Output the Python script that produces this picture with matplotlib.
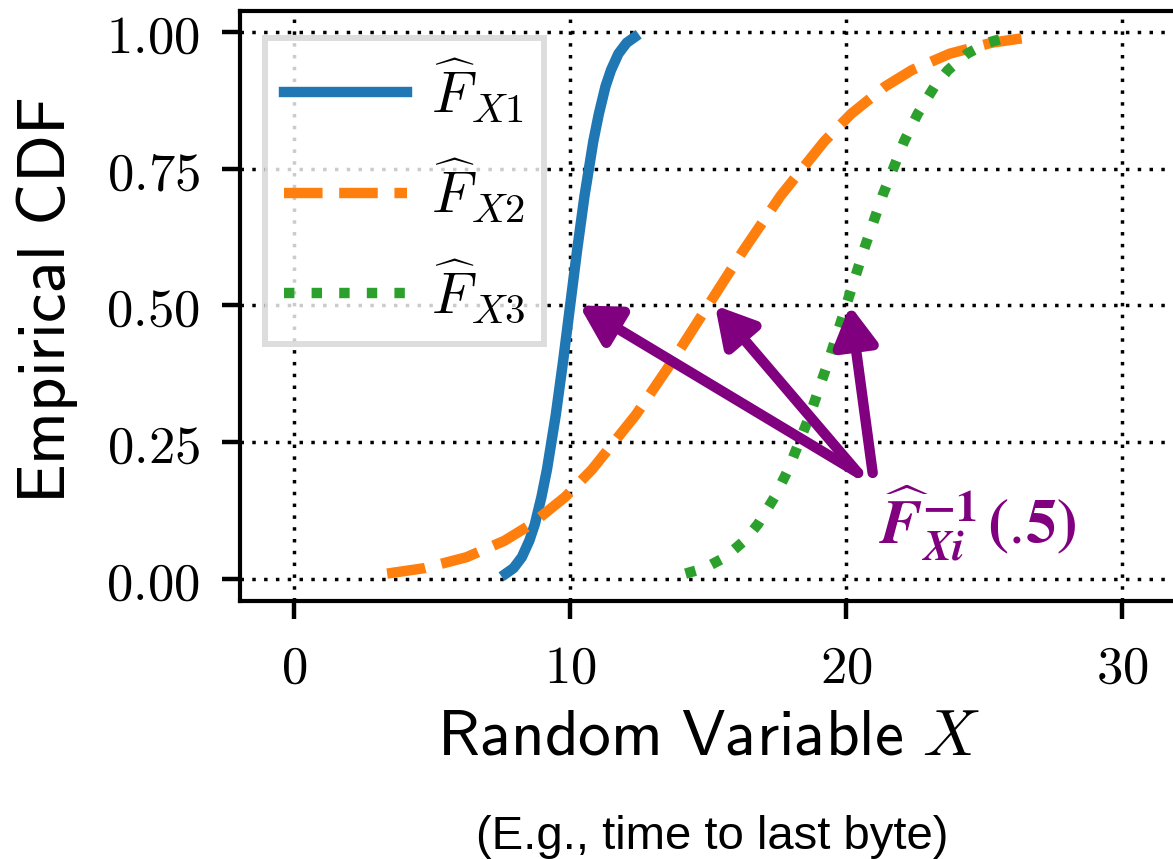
import numpy as np
import matplotlib
matplotlib.use("Agg")
import matplotlib.pyplot as plt

plt.rcParams['mathtext.fontset'] = 'cm'

# CDF levels and the x positions
cdf_levels = [0.01, 0.02, 0.04, 0.07, 0.10, 0.15, 0.20, 0.30, 0.40, 0.50,
              0.60, 0.70, 0.80, 0.85, 0.90, 0.93, 0.96, 0.98, 0.99]
x_f1 = [7.67, 7.95, 8.25, 8.52, 8.72, 8.96, 9.16, 9.48, 9.75, 10.0,
        10.25, 10.52, 10.84, 11.04, 11.28, 11.48, 11.75, 12.05, 12.33]
x_f2 = [3.37, 4.73, 6.25, 7.62, 8.59, 9.82, 10.79, 12.38, 13.73, 15.0,
        16.27, 17.62, 19.21, 20.18, 21.41, 22.38, 23.75, 25.27, 26.63]
x_f3 = [14.18, 14.87, 15.62, 16.31, 16.80, 17.41, 17.90, 18.69, 19.37, 20.0,
        20.63, 21.31, 22.10, 22.59, 23.20, 23.69, 24.38, 25.13, 25.82]

labels = [r'$\widehat{F}_{X1}$', r'$\widehat{F}_{X2}$', r'$\widehat{F}_{X3}$']
xticks = [0, 10, 20, 30]
yticks = [0.0, 0.25, 0.50, 0.75, 1.0]
ytick_labels = ['0.00', '0.25', '0.50', '0.75', '1.00']

# arrow tips (at the medians) and tails
arrow_tips = [(10.33, 0.5), (15.25, 0.5), (20.14, 0.5)]
arrow_tails = [(20.43, 0.194), (20.43, 0.194), (20.96, 0.194)]

fig = plt.figure(figsize=(11.73, 8.59), dpi=100)
ax = fig.add_axes([0.2046, 0.3004, 0.8227, 0.6868])

lw = 7.5
ax.plot(x_f1, cdf_levels, color='#1f77b4', lw=lw, ls='-', label=labels[0])
ax.plot(x_f2, cdf_levels, color='#ff7f0e', lw=lw, ls='--', label=labels[1])
ax.plot(x_f3, cdf_levels, color='#2ca02c', lw=lw, ls=':', label=labels[2])

for tip, tail in zip(arrow_tips, arrow_tails):
    ax.annotate('', xy=tip, xytext=tail,
                arrowprops=dict(arrowstyle='-|>,head_length=23,head_width=13',
                                mutation_scale=1, color='purple', lw=7.5,
                                shrinkA=0, shrinkB=0))

ax.text(21.2, 0.062,
        r'$\widehat{\boldsymbol{F}}_{\boldsymbol{Xi}}^{\boldsymbol{-1}}\,\boldsymbol{(.\!5)}$',
        color='purple', fontsize=45, ha='left', va='baseline',
        math_fontfamily='stix')

ax.set_xlim(-1.96, 33)
ax.set_ylim(-0.04, 1.038)
ax.set_xticks(xticks, ['$%d$' % t for t in xticks])
ax.set_yticks(yticks, ['$%s$' % t for t in ytick_labels])
ax.tick_params(labelsize=38, length=13, width=3.2, pad=16)
ax.grid(True, color='k', lw=2.5, ls=(0, (1, 2.4)))
for s in ['left', 'bottom', 'top']:
    ax.spines[s].set_linewidth(3)
ax.spines['right'].set_visible(False)

ax.set_ylabel(r'$\mathsf{Empirical\ CDF}$', fontsize=48)
ax.yaxis.set_label_coords(-0.166, 0.509)
ax.set_xlabel(r'$\mathsf{Random\ Variable}\ X$', fontsize=47)
ax.xaxis.set_label_coords(0.486, -0.175)

leg = ax.legend(loc='upper left', bbox_to_anchor=(0.026, 0.955), borderaxespad=0,
                fontsize=42, fancybox=False, edgecolor='#d5d5d5', framealpha=0.8,
                handlelength=2.11, handletextpad=0.41, borderpad=0.32,
                labelspacing=0.55)
leg.get_frame().set_linewidth(4.3)

fig.text(0.607, 0.0256, '(E.g., time to last byte)', fontsize=34,
         family='Liberation Sans', ha='center', va='center')

fig.savefig('out.png', dpi=100)
